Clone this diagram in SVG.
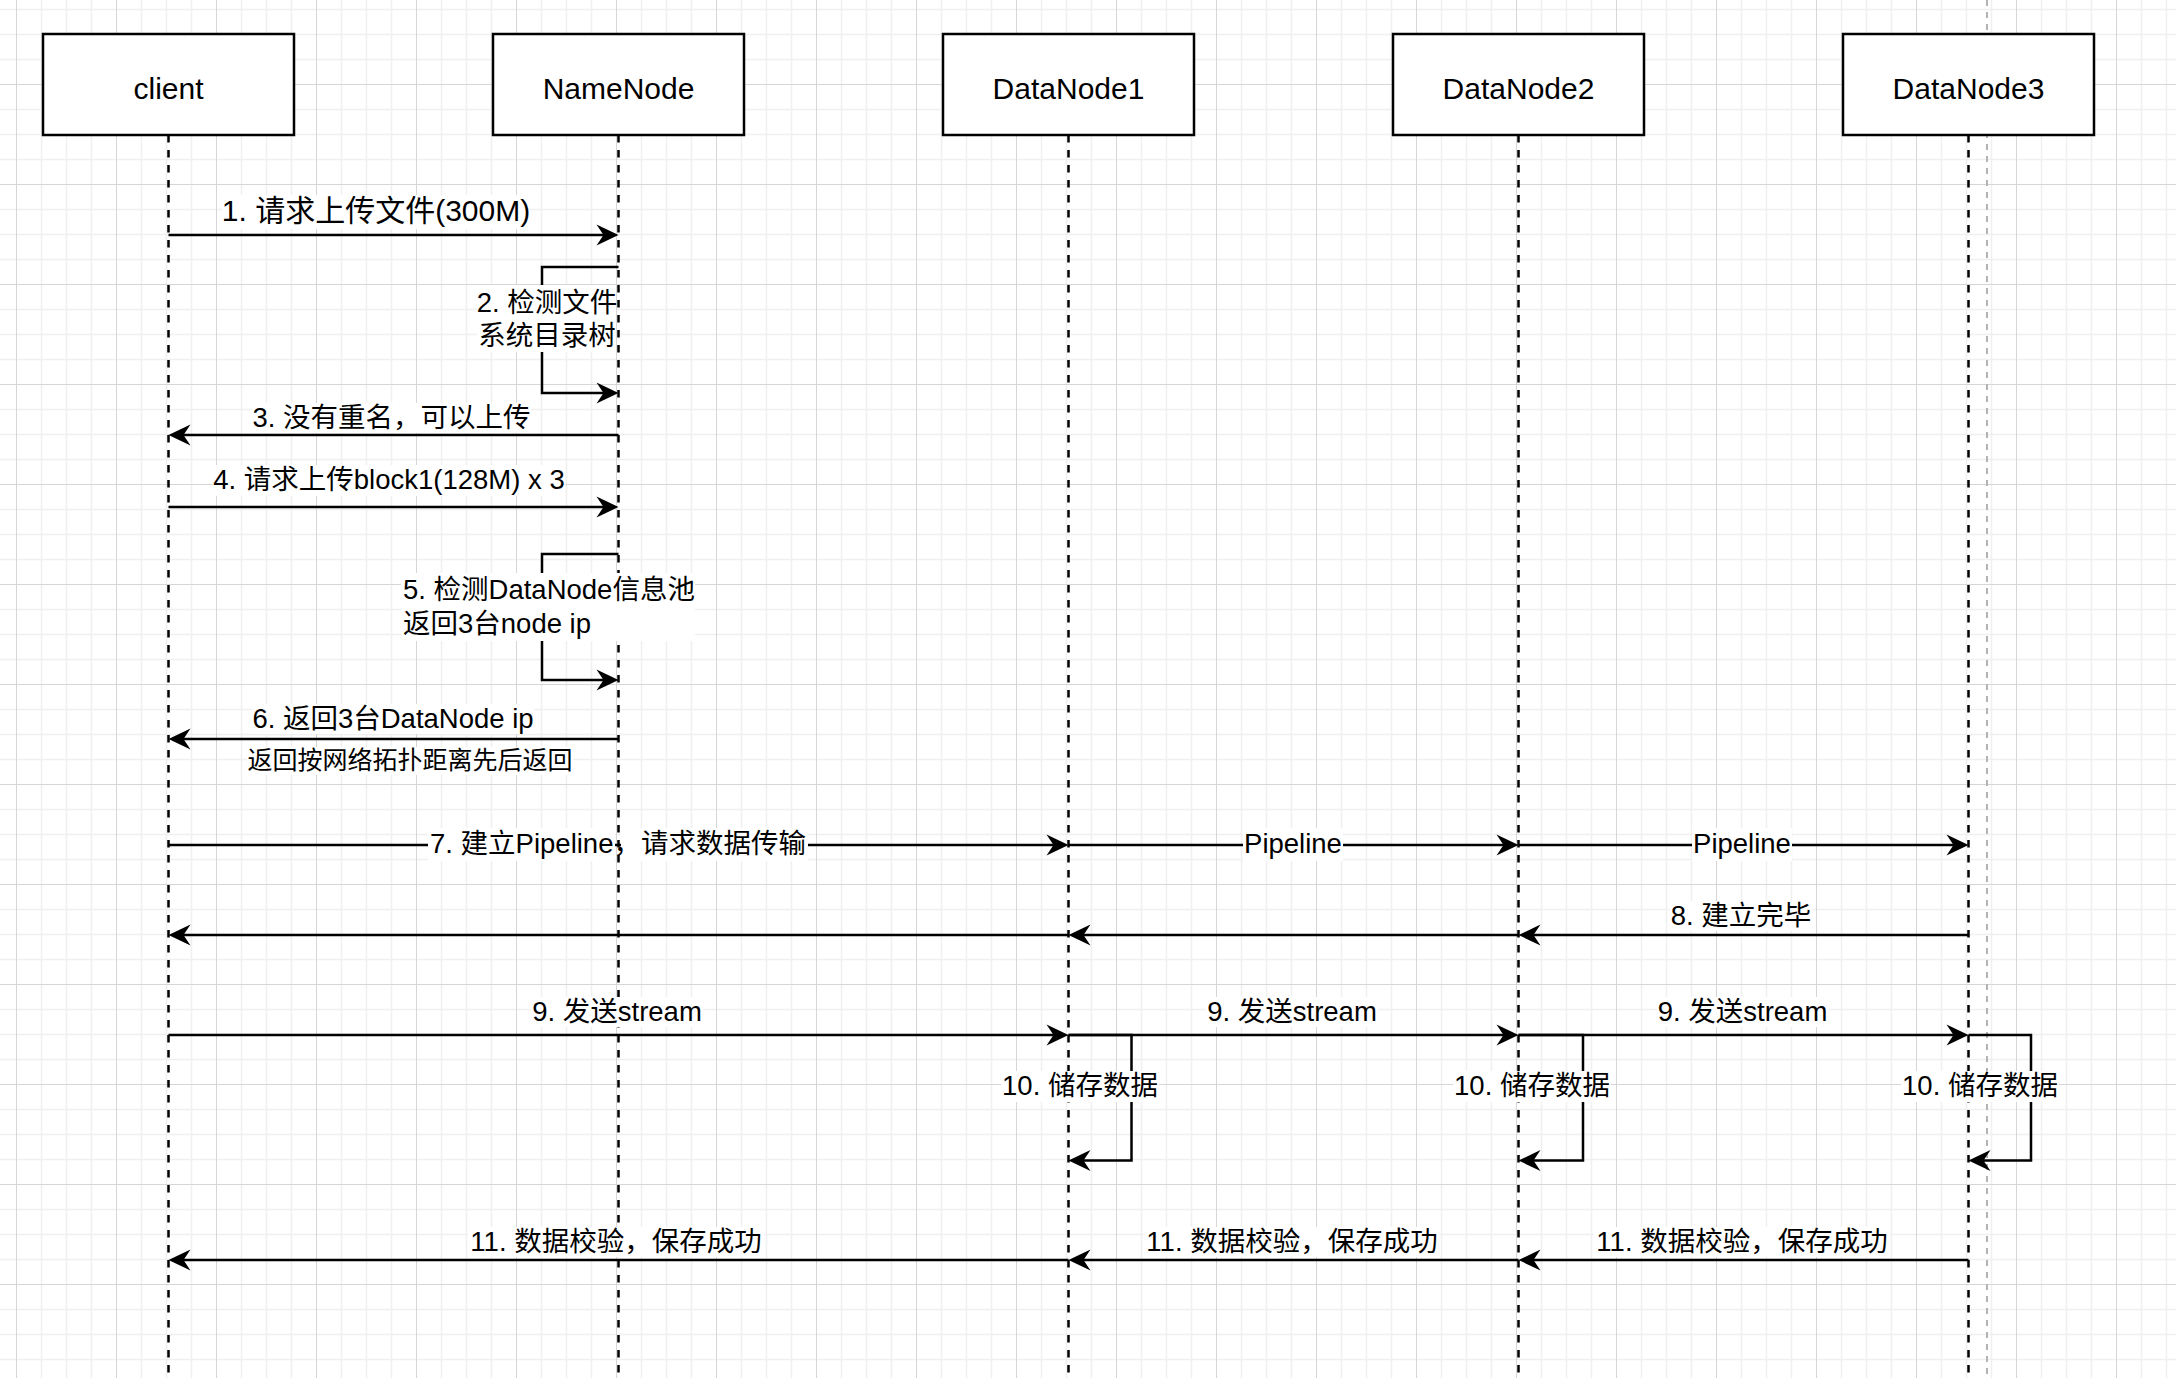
<svg xmlns="http://www.w3.org/2000/svg" width="2176" height="1378" viewBox="0 0 2176 1378">
<style>
text{font-family:'Liberation Sans',Arial,'Noto Sans CJK SC',sans-serif;fill:#000}
.t{font-size:27.5px;text-anchor:middle}
.tb{font-size:30px;text-anchor:middle}
.ts{font-size:25px;text-anchor:middle}
.tl{font-size:27.5px;text-anchor:start}
.bg{fill:#fff}
.box{fill:#fff;stroke:#000;stroke-width:2.5}
.life{fill:none;stroke:#000;stroke-width:2.5;stroke-dasharray:7.5 7.5}
.msg{fill:none;stroke:#000;stroke-width:2.5;marker-end:url(#arr)}
.loop{fill:none;stroke:#000;stroke-width:2.5;stroke-linejoin:miter;marker-end:url(#arr)}
</style>
<defs>
<pattern id="grid" width="100" height="100" patternUnits="userSpaceOnUse" x="-46" y="-78">
<path d="M12.5,0V100M37.5,0V100M87.5,0V100M0,12.5H100M0,37.5H100M0,87.5H100" stroke="#f0f0f0" stroke-width="1.5" fill="none"/>
<path d="M62.5,0V100M0,62.5H100" stroke="#d6d6d6" stroke-width="1" fill="none"/>
</pattern>
<marker id="arr" markerUnits="userSpaceOnUse" markerWidth="40" markerHeight="40" refX="0" refY="0" orient="auto" overflow="visible">
<path d="M10,0 L-12,-10.5 L-5,0 L-12,10.5 Z" fill="#000"/>
</marker>
</defs>
<rect width="2176" height="1378" fill="#fff"/>
<rect width="2176" height="1378" fill="url(#grid)"/>
<line x1="1987" y1="0" x2="1987" y2="1378" stroke="#b3b3b3" stroke-width="2" stroke-dasharray="6 6"/>

<g id="client">
<line class="life" x1="168.5" y1="135" x2="168.5" y2="1378"/>
<rect class="box" x="43" y="34" width="251" height="101"/>
<text class="tb" x="168.5" y="99">client</text>
</g>
<g id="NameNode">
<line class="life" x1="618.5" y1="135" x2="618.5" y2="1378"/>
<rect class="box" x="493" y="34" width="251" height="101"/>
<text class="tb" x="618.5" y="99">NameNode</text>
</g>
<g id="DataNode1">
<line class="life" x1="1068.5" y1="135" x2="1068.5" y2="1378"/>
<rect class="box" x="943" y="34" width="251" height="101"/>
<text class="tb" x="1068.5" y="99">DataNode1</text>
</g>
<g id="DataNode2">
<line class="life" x1="1518.5" y1="135" x2="1518.5" y2="1378"/>
<rect class="box" x="1393" y="34" width="251" height="101"/>
<text class="tb" x="1518.5" y="99">DataNode2</text>
</g>
<g id="DataNode3">
<line class="life" x1="1968.5" y1="135" x2="1968.5" y2="1378"/>
<rect class="box" x="1843" y="34" width="251" height="101"/>
<text class="tb" x="1968.5" y="99">DataNode3</text>
</g>

<g id="connectors">
<path class="msg" d="M168.5,235 H608.5"/>
<path class="loop" d="M618.5,267 H542 V393 H608.5"/>
<path class="msg" d="M618.5,435 H178.5"/>
<path class="msg" d="M168.5,507 H608.5"/>
<path class="loop" d="M618.5,554 H542 V680 H608.5"/>
<path class="msg" d="M618.5,739 H178.5"/>
<path class="msg" d="M168.5,845 H1058.5"/>
<path class="msg" d="M1068.5,845 H1508.5"/>
<path class="msg" d="M1518.5,845 H1958.5"/>
<path class="msg" d="M1968.5,935 H1528.5"/>
<path class="msg" d="M1518.5,935 H1078.5"/>
<path class="msg" d="M1068.5,935 H178.5"/>
<path class="msg" d="M168.5,1035 H1058.5"/>
<path class="msg" d="M1068.5,1035 H1508.5"/>
<path class="msg" d="M1518.5,1035 H1958.5"/>
<path class="loop" d="M1068.5,1035 H1131.5 V1160.5 H1078.5"/>
<path class="loop" d="M1518.5,1035 H1583 V1160.5 H1528.5"/>
<path class="loop" d="M1968.5,1035 H2031 V1160.5 H1978.5"/>
<path class="msg" d="M1968.5,1260 H1528.5"/>
<path class="msg" d="M1518.5,1260 H1078.5"/>
<path class="msg" d="M1068.5,1260 H178.5"/>

<rect class="bg" x="222" y="195" width="308" height="34"/>
<text class="tb" x="376" y="221">1. 请求上传文件(300M)</text>
<rect class="bg" x="477" y="285" width="139" height="67"/>
<text class="t" x="547" y="312">2. 检测文件</text>
<text class="t" x="547" y="345">系统目录树</text>
<rect class="bg" x="252" y="403" width="279" height="30"/>
<text class="t" x="391.5" y="427">3. 没有重名，可以上传</text>
<rect class="bg" x="213" y="465" width="352" height="31"/>
<text class="t" x="389" y="489">4. 请求上传block1(128M) x 3</text>
<rect class="bg" x="401" y="573" width="294" height="68"/>
<text class="tl" x="403" y="599">5. 检测DataNode信息池</text>
<text class="tl" x="403" y="633">返回3台node ip</text>
<rect class="bg" x="252" y="704" width="282" height="30"/>
<text class="t" x="393" y="728">6. 返回3台DataNode ip</text>
<rect class="bg" x="247" y="747" width="326" height="28"/>
<text class="ts" x="410" y="769">返回按网络拓扑距离先后返回</text>
<rect class="bg" x="428" y="828" width="187" height="33"/>
<rect class="bg" x="621" y="828" width="187" height="33"/>
<text class="t" x="618" y="853">7. 建立Pipeline，请求数据传输</text>
<rect class="bg" x="1243" y="828" width="100" height="33"/>
<text class="t" x="1293" y="853">Pipeline</text>
<rect class="bg" x="1692" y="828" width="100" height="33"/>
<text class="t" x="1742" y="853">Pipeline</text>
<rect class="bg" x="1670" y="901" width="142" height="30"/>
<text class="t" x="1741" y="925">8. 建立完毕</text>
<rect class="bg" x="531" y="997" width="172" height="30"/>
<text class="t" x="617" y="1021">9. 发送stream</text>
<rect class="bg" x="1206" y="997" width="172" height="30"/>
<text class="t" x="1292" y="1021">9. 发送stream</text>
<rect class="bg" x="1657" y="997" width="172" height="30"/>
<text class="t" x="1742.5" y="1021">9. 发送stream</text>
<rect class="bg" x="1001" y="1071" width="158" height="31"/>
<text class="t" x="1080" y="1095">10. 储存数据</text>
<rect class="bg" x="1453" y="1071" width="158" height="31"/>
<text class="t" x="1532" y="1095">10. 储存数据</text>
<rect class="bg" x="1901" y="1071" width="158" height="31"/>
<text class="t" x="1980" y="1095">10. 储存数据</text>
<rect class="bg" x="468" y="1227" width="296" height="30"/>
<text class="t" x="616" y="1251">11. 数据校验，保存成功</text>
<rect class="bg" x="1144" y="1227" width="296" height="30"/>
<text class="t" x="1292" y="1251">11. 数据校验，保存成功</text>
<rect class="bg" x="1594" y="1227" width="296" height="30"/>
<text class="t" x="1742" y="1251">11. 数据校验，保存成功</text>
</g>
</svg>
